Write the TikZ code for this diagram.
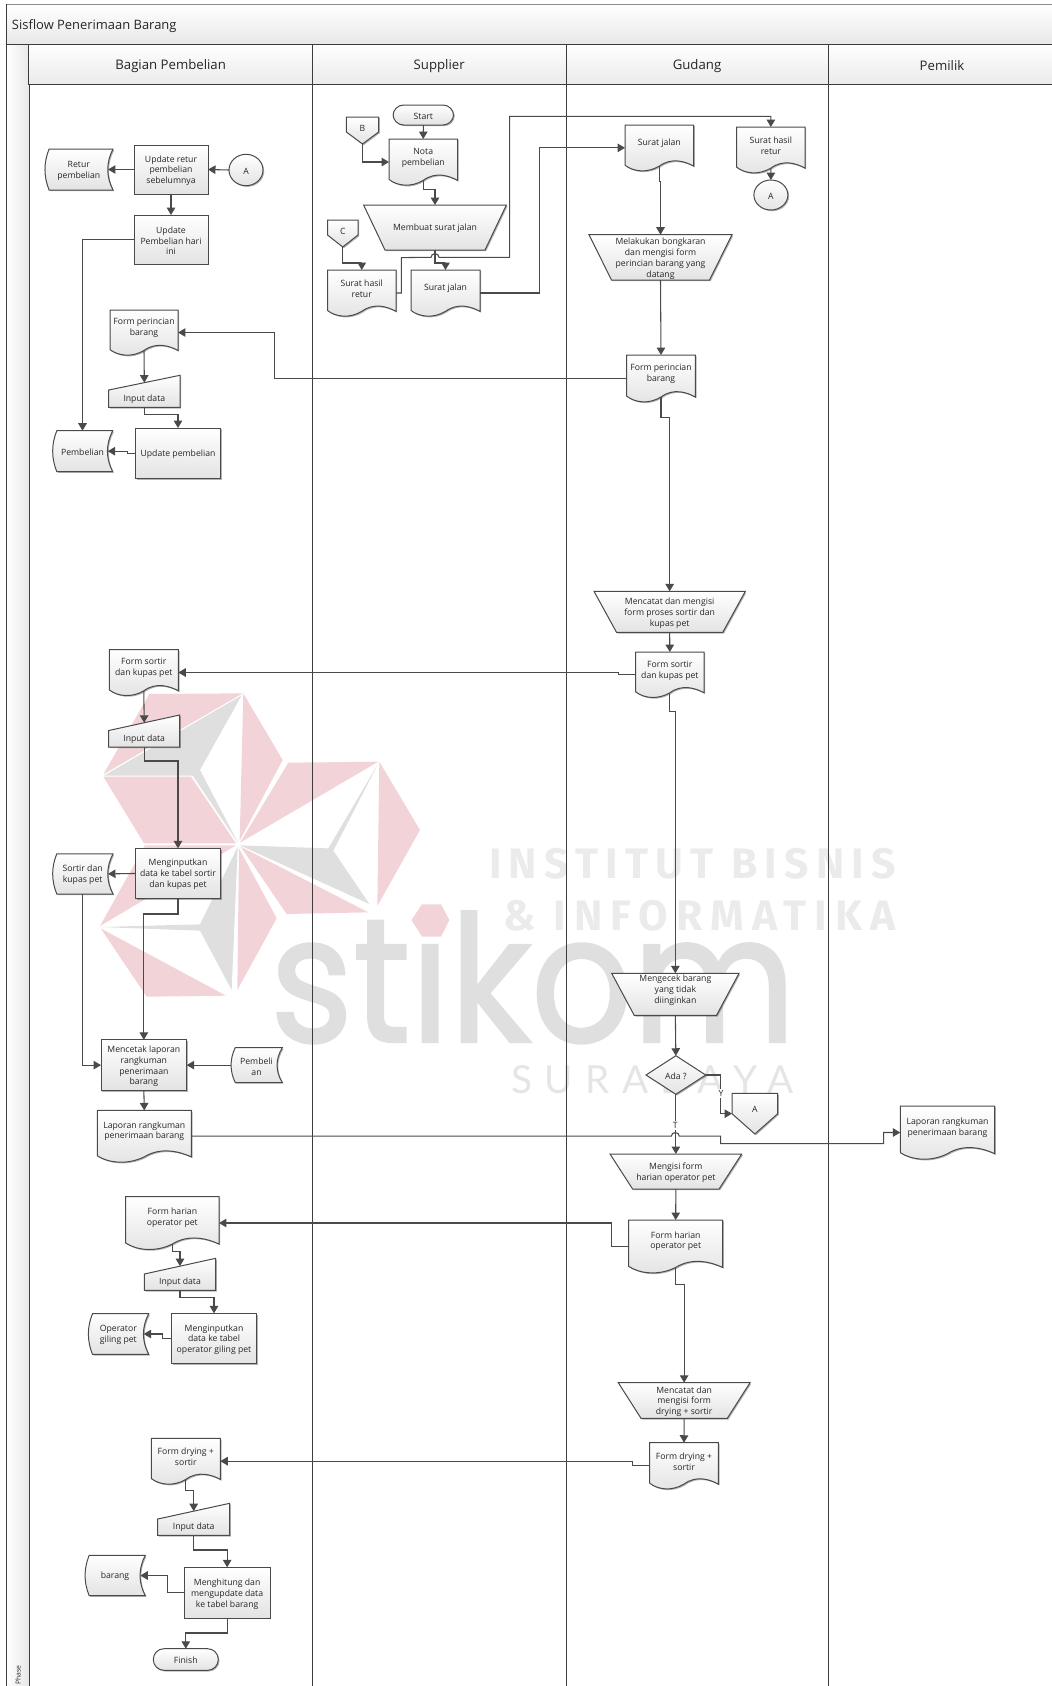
\documentclass[tikz,border=0pt]{standalone}
\usepackage{fontspec}
\setmainfont{Open Sans}
\newfontfamily\wmfont{Poppins}[FakeBold=1.6]
\newfontfamily\wmbold{Fira Sans}[BoldFont={Fira Sans Bold}]
\newfontfamily\wmlight{Lato}
\usetikzlibrary{arrows.meta}

\definecolor{linecol}{HTML}{4A4A4A}
\definecolor{lanecol}{HTML}{3C3C3C}
\definecolor{fillcol}{HTML}{E3E3E3}
\definecolor{txtcol}{HTML}{262626}
\definecolor{wmred}{HTML}{F2D3D7}
\definecolor{wmgray}{HTML}{DFDFDF}

\tikzset{every picture/.style={line width=0.75pt}}
\tikzset{
  flowfill/.style={draw=linecol,top color=white,bottom color=fillcol,
    preaction={fill=black,opacity=0.3,transform canvas={shift={(0.9pt,-0.9pt)}}}},
  flowtext/.style={font=\fontsize{6.5}{8.2}\selectfont,text=txtcol,align=center,inner sep=0pt,yshift=-0.9pt},
  anchorbox/.style={inner sep=0pt,outer sep=0pt},
  connline/.style={draw=linecol,line width=0.8pt,-{Triangle[length=5.6pt,width=6.4pt]}},
  lanehead/.style={draw=lanecol,top color=white,bottom color=black!8,inner sep=0pt,minimum height=30pt},
  lanetext/.style={font=\fontsize{9.9}{11}\selectfont,text=txtcol,inner sep=0pt,yshift=-1.2pt},
}

% box from (x1,y1) to (x2,y2)
\newcommand{\boxnode}[5]{\node (#1) [anchorbox,minimum width={(#4-#2)*0.75pt},minimum height={(#5-#3)*0.75pt}] at ({(#2+#4)/2},{(#3+#5)/2}) {};}
% process box
\newcommand{\procbox}[6]{%
  \draw[flowfill] (#2,#3) rectangle (#4,#5);
  \boxnode{#1}{#2}{#3}{#4}{#5}
  \node (#1t) [flowtext] at ({(#2+#4)/2},{(#3+#5)/2}) {#6};}
% start and finish
\newcommand{\termbox}[6]{%
  \draw[flowfill,rounded corners=8pt] (#2,#3) rectangle (#4,#5);
  \boxnode{#1}{#2}{#3}{#4}{#5}
  \node (#1t) [flowtext] at ({(#2+#4)/2},{(#3+#5)/2}) {#6};}
% connector circle
\newcommand{\circbox}[6]{%
  \draw[flowfill] (#2,#3) ellipse [x radius=#4,y radius=#5];
  \node (#1) [anchorbox,minimum width={2*#4*0.75pt},minimum height={2*#5*0.75pt}] at (#2,#3) {};
  \node (#1t) [flowtext] at (#2,#3) {#6};}
% paper document, #1s = foot of the stem
\newcommand{\docbox}[6]{%
  \pgfmathsetmacro{\dw}{(#5-#3)*0.1}\pgfmathsetmacro{\dx}{(#4-#2)}
  \draw[flowfill] (#2,#3) -- (#4,#3) -- (#4,{#5-\dw}) .. controls ({#4-0.12*\dx},{#5-2*\dw}) and ({#4-0.32*\dx},{#5-3*\dw}) .. ({(#2+#4)/2},{#5-\dw}) .. controls ({#2+0.32*\dx},{#5+0.6*\dw}) and ({#2+0.12*\dx},{#5+0.2*\dw}) .. (#2,{#5-1.2*\dw}) -- cycle;
  \boxnode{#1}{#2}{#3}{#4}{#5}
  \coordinate (#1s) at ({(#2+#4)/2},{#5-\dw});
  \node (#1t) [flowtext] at ({(#2+#4)/2},{#3+(#5-#3)*0.38}) {#6};}
% stored data, #1e = hollow of the right side
\newcommand{\dbbox}[6]{%
  \pgfmathsetmacro{\dh}{(#5-#3)}
  \draw[flowfill] ({#2+4.5},#3) -- (#4,#3) .. controls ({#4-7},{#3+0.33*\dh}) and ({#4-7},{#5-0.33*\dh}) .. (#4,#5) -- ({#2+4.5},#5) .. controls ({#2-1},{#5-0.33*\dh}) and ({#2-1},{#3+0.33*\dh}) .. ({#2+4.5},#3) -- cycle;
  \boxnode{#1}{#2}{#3}{#4}{#5}
  \coordinate (#1e) at ({#4-5},{(#3+#5)/2});
  \node (#1t) [flowtext] at ({(#2+#4)/2},{(#3+#5)/2}) {#6};}
% manual input, #1n = middle of the slanted top
\newcommand{\inputbox}[7]{%
  \draw[flowfill] (#2,#6) -- (#4,#3) -- (#4,#5) -- (#2,#5) -- cycle;
  \boxnode{#1}{#2}{#3}{#4}{#5}
  \coordinate (#1n) at ({(#2+#4)/2},{(#3+#6)/2});
  \node (#1t) [flowtext] at ({(#2+#4)/2},{#5-9}) {#7};}
% trapezium, optional shift of the text
\newcommand{\trapbox}[8][0]{%
  \draw[flowfill] (#3,#4) -- (#5,#4) -- ({#5-#7},#6) -- ({#3+#7},#6) -- cycle;
  \boxnode{#2}{#3}{#4}{#5}{#6}
  \node (#2t) [flowtext] at ({(#3+#5)/2},{(#4+#6)/2+#1}) {#8};}
% off-page connector
\newcommand{\offbox}[7]{%
  \draw[flowfill] (#2,#3) -- (#4,#3) -- (#4,#6) -- ({(#2+#4)/2},#5) -- (#2,#6) -- cycle;
  \boxnode{#1}{#2}{#3}{#4}{#5}
  \node (#1t) [flowtext] at ({(#2+#4)/2},{#3+(#5-#3)*0.37}) {#7};}
% decision
\newcommand{\askbox}[6]{%
  \draw[flowfill] (#2,{(#3+#5)/2}) -- ({(#2+#4)/2},#3) -- (#4,{(#3+#5)/2}) -- ({(#2+#4)/2},#5) -- cycle;
  \boxnode{#1}{#2}{#3}{#4}{#5}
  \node (#1t) [flowtext] at ({(#2+#4)/2},{(#3+#5)/2}) {#6};}

\begin{document}
\begin{tikzpicture}[x=0.75pt,y=0.75pt,yscale=-1,xscale=1]
\useasboundingbox (0,0) rectangle (1052,1686);
\clip (0,0) rectangle (1052,1686);

%Watermark
\begin{scope}[shift={(90,680)},x=0.25pt,y=0.25pt]
\fill[wmred] (178,42) -- (458,40) -- (40,283) -- cycle;
\fill[wmgray] (42,287) -- (455,46) -- (330,270) -- (445,490) -- (308,287) -- cycle;
\fill[wmred] (460,40) -- (578,240) -- (449,482) -- cycle;
\fill[wmred] (40,290) -- (303,290) -- (438,490) -- (162,490) -- cycle;
\fill[wmred] (165,496) -- (438,496) -- (30,738) -- cycle;
\fill[wmgray] (30,741) -- (330,733) -- (443,500) -- (425,930) -- (330,752) -- cycle;
\fill[wmred] (32,745) -- (408,947) -- (170,950) -- cycle;
\fill[wmred] (447,505) -- (560,715) -- (442,930) -- cycle;
\fill[wmred] (865,245) -- (595,248) -- (450,488) -- cycle;
\fill[wmgray] (450,496) -- (715,505) -- (865,250) -- (730,512) -- (838,672) -- cycle;
\fill[wmred] (868,245) -- (990,450) -- (862,678) -- cycle;
\fill[wmred] (452,500) -- (835,697) -- (590,702) -- cycle;
\end{scope}
%Dot of the i
\fill[wmred] (411.5,920) -- (422,904.3) -- (441,904.3) -- (449.4,920) -- (441,936.7) -- (422,936.7) -- cycle;
% Text Node
\node (wmstikom) [anchor=base,inner sep=0pt,text=wmgray,xscale=0.9] at (533,1041.7) {\fontsize{132}{132}\wmfont st\i kom};
% Text Node
\node (wminstitut) [anchor=base,inner sep=0pt,text=black!8] at (692.5,878.3) {\fontsize{32}{32}\wmbold\bfseries\addfontfeature{LetterSpace=17}INSTITUT BISNIS};
% Text Node
\node (wminformatika) [anchor=base,inner sep=0pt,text=black!8] at (699.5,930) {\fontsize{32}{32}\wmbold\bfseries\addfontfeature{LetterSpace=19}\& INFORMATIKA};
% Text Node
\node (wmsurabaya) [anchor=base,inner sep=0pt,text=black!10] at (652.5,1093.3) {\fontsize{29}{29}\wmlight\addfontfeature{LetterSpace=32}SURABAYA};

%Frame and lanes
\shade[top color=white,bottom color=black!9] (6.3,4) rectangle (1056,44);
\draw[draw=black!45] (6.3,4) -- (1056,4);
\shade[left color=white,right color=black!9] (6.3,44) rectangle (29,1690);
\draw[lanecol] (6.3,4) -- (6.3,1690);
\draw[lanecol] (6.3,44) -- (1056,44);
\draw[lanecol] (29,44) -- (29,1690);
\draw[lanecol] (312.3,44) -- (312.3,1690);
\draw[lanecol] (566,44) -- (566,1690);
\draw[lanecol] (828,44) -- (828,1690);
\node (title) [anchor=west,inner sep=0pt,font=\fontsize{9.7}{11}\selectfont,text=txtcol] at (11.5,26) {Sisflow Penerimaan Barang};
\node (lanebeli) [lanehead,minimum width=212.5pt] at (170.65,64) {};
\node (lanesup) [lanehead,minimum width=190.3pt] at (439.15,64) {};
\node (lanegud) [lanehead,minimum width=196.5pt] at (697,64) {};
\node (lanepem) [lanehead,minimum width=171pt] at (942,64) {};
\node (lanebelit) [lanetext] at (lanebeli.center) {Bagian Pembelian};
\node (lanesupt) [lanetext] at (lanesup.center) {Supplier};
\node (lanegudt) [lanetext] at (lanegud.center) {Gudang};
\node (lanepemt) [lanetext] at (lanepem.center) {Pemilik};
\node (phase) [rotate=90,anchor=east,inner sep=0pt,font=\fontsize{5.1}{6}\selectfont,text=txtcol] at (18,1665) {Phase};

%Bagian Pembelian
\dbbox{returdb}{44.6}{149}{113}{190}{Retur\\pembelian}
\procbox{updretur}{134}{145}{208}{194}{Update retur\\pembelian\\sebelumnya}
\circbox{ina}{246}{170}{17}{15.7}{A}
\procbox{updhari}{134}{215}{208}{264}{Update\\Pembelian hari\\ini}
\docbox{formperL}{110}{310}{178}{355}{Form perincian\\barang}
\inputbox{inpa}{108.7}{375.3}{180}{407.3}{390}{Input data}
\procbox{updbeli}{135.3}{428}{220.7}{478.3}{Update pembelian}
\dbbox{belidb}{52.3}{430.7}{112.7}{471.7}{Pembelian}
\docbox{formsortL}{109.3}{649.6}{178.3}{695.4}{Form sortir\\dan kupas pet}
\inputbox{inpb}{108.7}{715}{179.7}{747}{730.5}{Input data}
\procbox{ketabel}{135.3}{848.3}{220.7}{898.6}{Menginputkan\\data ke tabel sortir\\dan kupas pet}
\dbbox{sortirdb}{52.3}{853.8}{113}{894}{Sortir dan\\kupas pet}
\procbox{cetak}{101}{1039.8}{186.7}{1090.4}{Mencetak laporan\\rangkuman\\penerimaan\\barang}
\dbbox{belisdb}{230.7}{1047.7}{282.3}{1082.5}{Pembeli\\an}
\docbox{lapL}{97.3}{1110.4}{191.3}{1162}{Laporan rangkuman\\penerimaan barang}
\docbox{formharL}{125.7}{1196.7}{219}{1249.3}{Form harian\\operator pet}
\inputbox{inpc}{144.3}{1258.3}{215.7}{1290.3}{1274}{Input data}
\procbox{ketabelb}{171.3}{1313.3}{256.7}{1363.7}{Menginputkan\\data ke tabel\\operator giling pet}
\dbbox{opdb}{88}{1313.7}{148.7}{1354.3}{Operator\\giling pet}
\docbox{formdryL}{151.3}{1438.3}{220.3}{1484}{Form drying +\\sortir}
\inputbox{inpd}{157.7}{1503.3}{229.7}{1535.3}{1519}{Input data}
\procbox{hitung}{184.3}{1567.3}{270}{1618}{Menghitung dan\\mengupdate data\\ke tabel barang}
\dbbox{barangdb}{84.7}{1555.3}{145.3}{1595.7}{barang}
\termbox{finish}{153.3}{1648.7}{218.3}{1670.3}{Finish}

%Supplier
\termbox{start}{393}{105}{453.6}{125}{Start}
\offbox{offb}{346.4}{117}{378.6}{144}{132}{B}
\docbox{nota}{389}{139}{457.5}{185}{Nota\\pembelian}
\trapbox{buatsj}{363.6}{205}{506.4}{250}{21.4}{Membuat surat jalan}
\offbox{offc}{327.5}{220}{358}{247}{235}{C}
\docbox{shrS}{327.5}{270}{396}{316}{Surat hasil\\retur}
\docbox{sjS}{411}{270}{480}{316}{Surat jalan}

%Gudang
\docbox{sjG}{625}{125}{693.7}{170.7}{Surat jalan}
\docbox{shrG}{736.7}{127}{805}{172.7}{Surat hasil\\retur}
\circbox{outa}{770.9}{195}{17}{15}{A}
\trapbox{bongkar}{589}{234.7}{732}{280}{22.5}{Melakukan bongkaran\\dan mengisi form\\perincian barang yang\\datang}
\docbox{formperG}{626.7}{355}{695.3}{401.7}{Form perincian\\barang}
\trapbox{catatsort}{594}{591.3}{745.3}{632.3}{22.5}{Mencatat dan mengisi\\form proses sortir dan\\kupas pet}
\docbox{formsortG}{635.7}{652}{704}{697.3}{Form sortir\\dan kupas pet}
\trapbox[-5]{cekbrg}{611.7}{973.3}{739}{1015.3}{22.5}{Mengecek barang\\yang tidak\\diinginkan}
\askbox{ada}{646}{1055.7}{705.7}{1094.3}{Ada ?}
\offbox{offa}{732}{1093.3}{777.7}{1134}{1113.7}{A}
\trapbox{isiform}{610}{1154}{741.7}{1189}{22.6}{Mengisi form\\harian operator pet}
\docbox{formharG}{628.7}{1220}{722.7}{1272.7}{Form harian\\operator pet}
\trapbox{catatdry}{618.3}{1382.7}{750}{1418.3}{22.7}{Mencatat dan\\mengisi form\\drying + sortir}
\docbox{formdryG}{649.7}{1442.7}{718.3}{1488.7}{Form drying +\\sortir}

%Pemilik
\docbox{lapR}{900.3}{1106}{994.7}{1159}{Laporan rangkuman\\penerimaan barang}

%Straight Lines
\draw[connline] (ina.west) -- (updretur.east);
\draw[connline] (updretur.west) -- (returdbe);
\draw[connline] (updretur.south) -- (updhari.north);
\draw[connline] (updhari.west) -| (belidb.north);
\draw[connline] (formperG.west) -- ++(-352.4,0) |- (formperL.east);
\draw[connline] (formperLs) -- (inpan);
\draw[connline] (inpa.south) -- ++(0,7.4) -| (updbeli.north);
\draw[connline] (updbeli.west) -- ++(-8,0) |- (belidbe);
\draw[connline] (start.south) -- (nota.north);
\draw[connline] (offb.south) |- (nota.west);
\draw[connline] (notas) -- ++(0,9) -| (buatsj.north);
\draw[connline] (buatsj.south) -- ++(0,13) -| (sjS.north);
\draw[connline] (offc.south) -- ++(0,16) -| (shrS.north);
%Curve Lines
\draw[connline] (shrS.east) -- ++(5.4,0) -- ++(0,-35.4) -- (431,257.3) .. controls (431,252.5) and (439,252.5) .. (439,257.3) -- (509.6,257.3) -- (509.6,116.3) -| (shrG.north);
\draw[connline] (sjS.east) -- ++(59.6,0) |- (sjG.west);
\draw[connline] (sjGs) -- ++(0,15) -| (bongkar.north);
\draw[connline] (bongkar.south) -- (formperG.north);
\draw[connline] (shrGs) -- (outa.north);
\draw[connline] (formperGs) -- ++(0,20) -| (catatsort.north);
\draw[connline] (catatsort.south) -- (formsortG.north);
\draw[connline] (formsortG.west) -- ++(-17,0) |- (formsortL.east);
\draw[connline] (formsortGs) -- ++(0,19) -| (cekbrg.north);
\draw[connline] (formsortLs) -- (inpbn);
\draw[connline] (inpb.south) -- ++(0,14) -| (ketabel.north);
\draw[connline] (ketabel.west) -- (sortirdbe);
\draw[connline] (ketabel.south) -- ++(0,15.4) -| (cetak.north);
\draw[connline] (sortirdb.south) |- (cetak.west);
\draw[connline] (belisdb.west) -- (cetak.east);
\draw[connline] (cetak.south) -- (lapL.north);
\draw[connline] (cekbrg.south) -- (ada.north);
\draw[connline] (ada.east) -- ++(15,0) |- (offa.west);
\draw[connline] (ada.south) -- (isiform.north);
\draw[connline] (lapL.east) -- (671.3,1136.2) .. controls (671.3,1131.4) and (679.3,1131.4) .. (679.3,1136.2) -- (720.7,1136.2) -- (720.7,1143.7) -- (883.7,1143.7) |- (lapR.west);
\draw[connline] (isiform.south) -- (formharG.north);
\draw[connline] (formharG.west) -- ++(-17,0) |- (formharL.east);
\draw[connline] (formharGs) -- ++(0,17) -| (catatdry.north);
\draw[connline] (catatdry.south) -- (formdryG.north);
\draw[connline] (formdryG.west) -- ++(-17.4,0) |- (formdryL.east);
\draw[connline] (formharLs) -- ++(0,7) -| (inpcn);
\draw[connline] (inpc.south) -- ++(0,7.4) -| (ketabelb.north);
\draw[connline] (ketabelb.west) -- ++(-8.6,0) |- (opdbe);
\draw[connline] (formdryLs) -- ++(0,10.7) -| (inpdn);
\draw[connline] (inpd.south) -- ++(0,14.7) -| (hitung.north);
\draw[connline] (hitung.west) -- ++(-16.6,0) |- (barangdbe);
\draw[connline] (hitung.south) -- ++(0,15) -| (finish.north);

% Text Node
\node (labely) [flowtext,fill=white,inner sep=1pt] at (721,1092) {Y};
% Text Node
\node (labelt) [flowtext,fill=white,inner sep=1pt] at (675.3,1124) {T};
\end{tikzpicture}
\end{document}
